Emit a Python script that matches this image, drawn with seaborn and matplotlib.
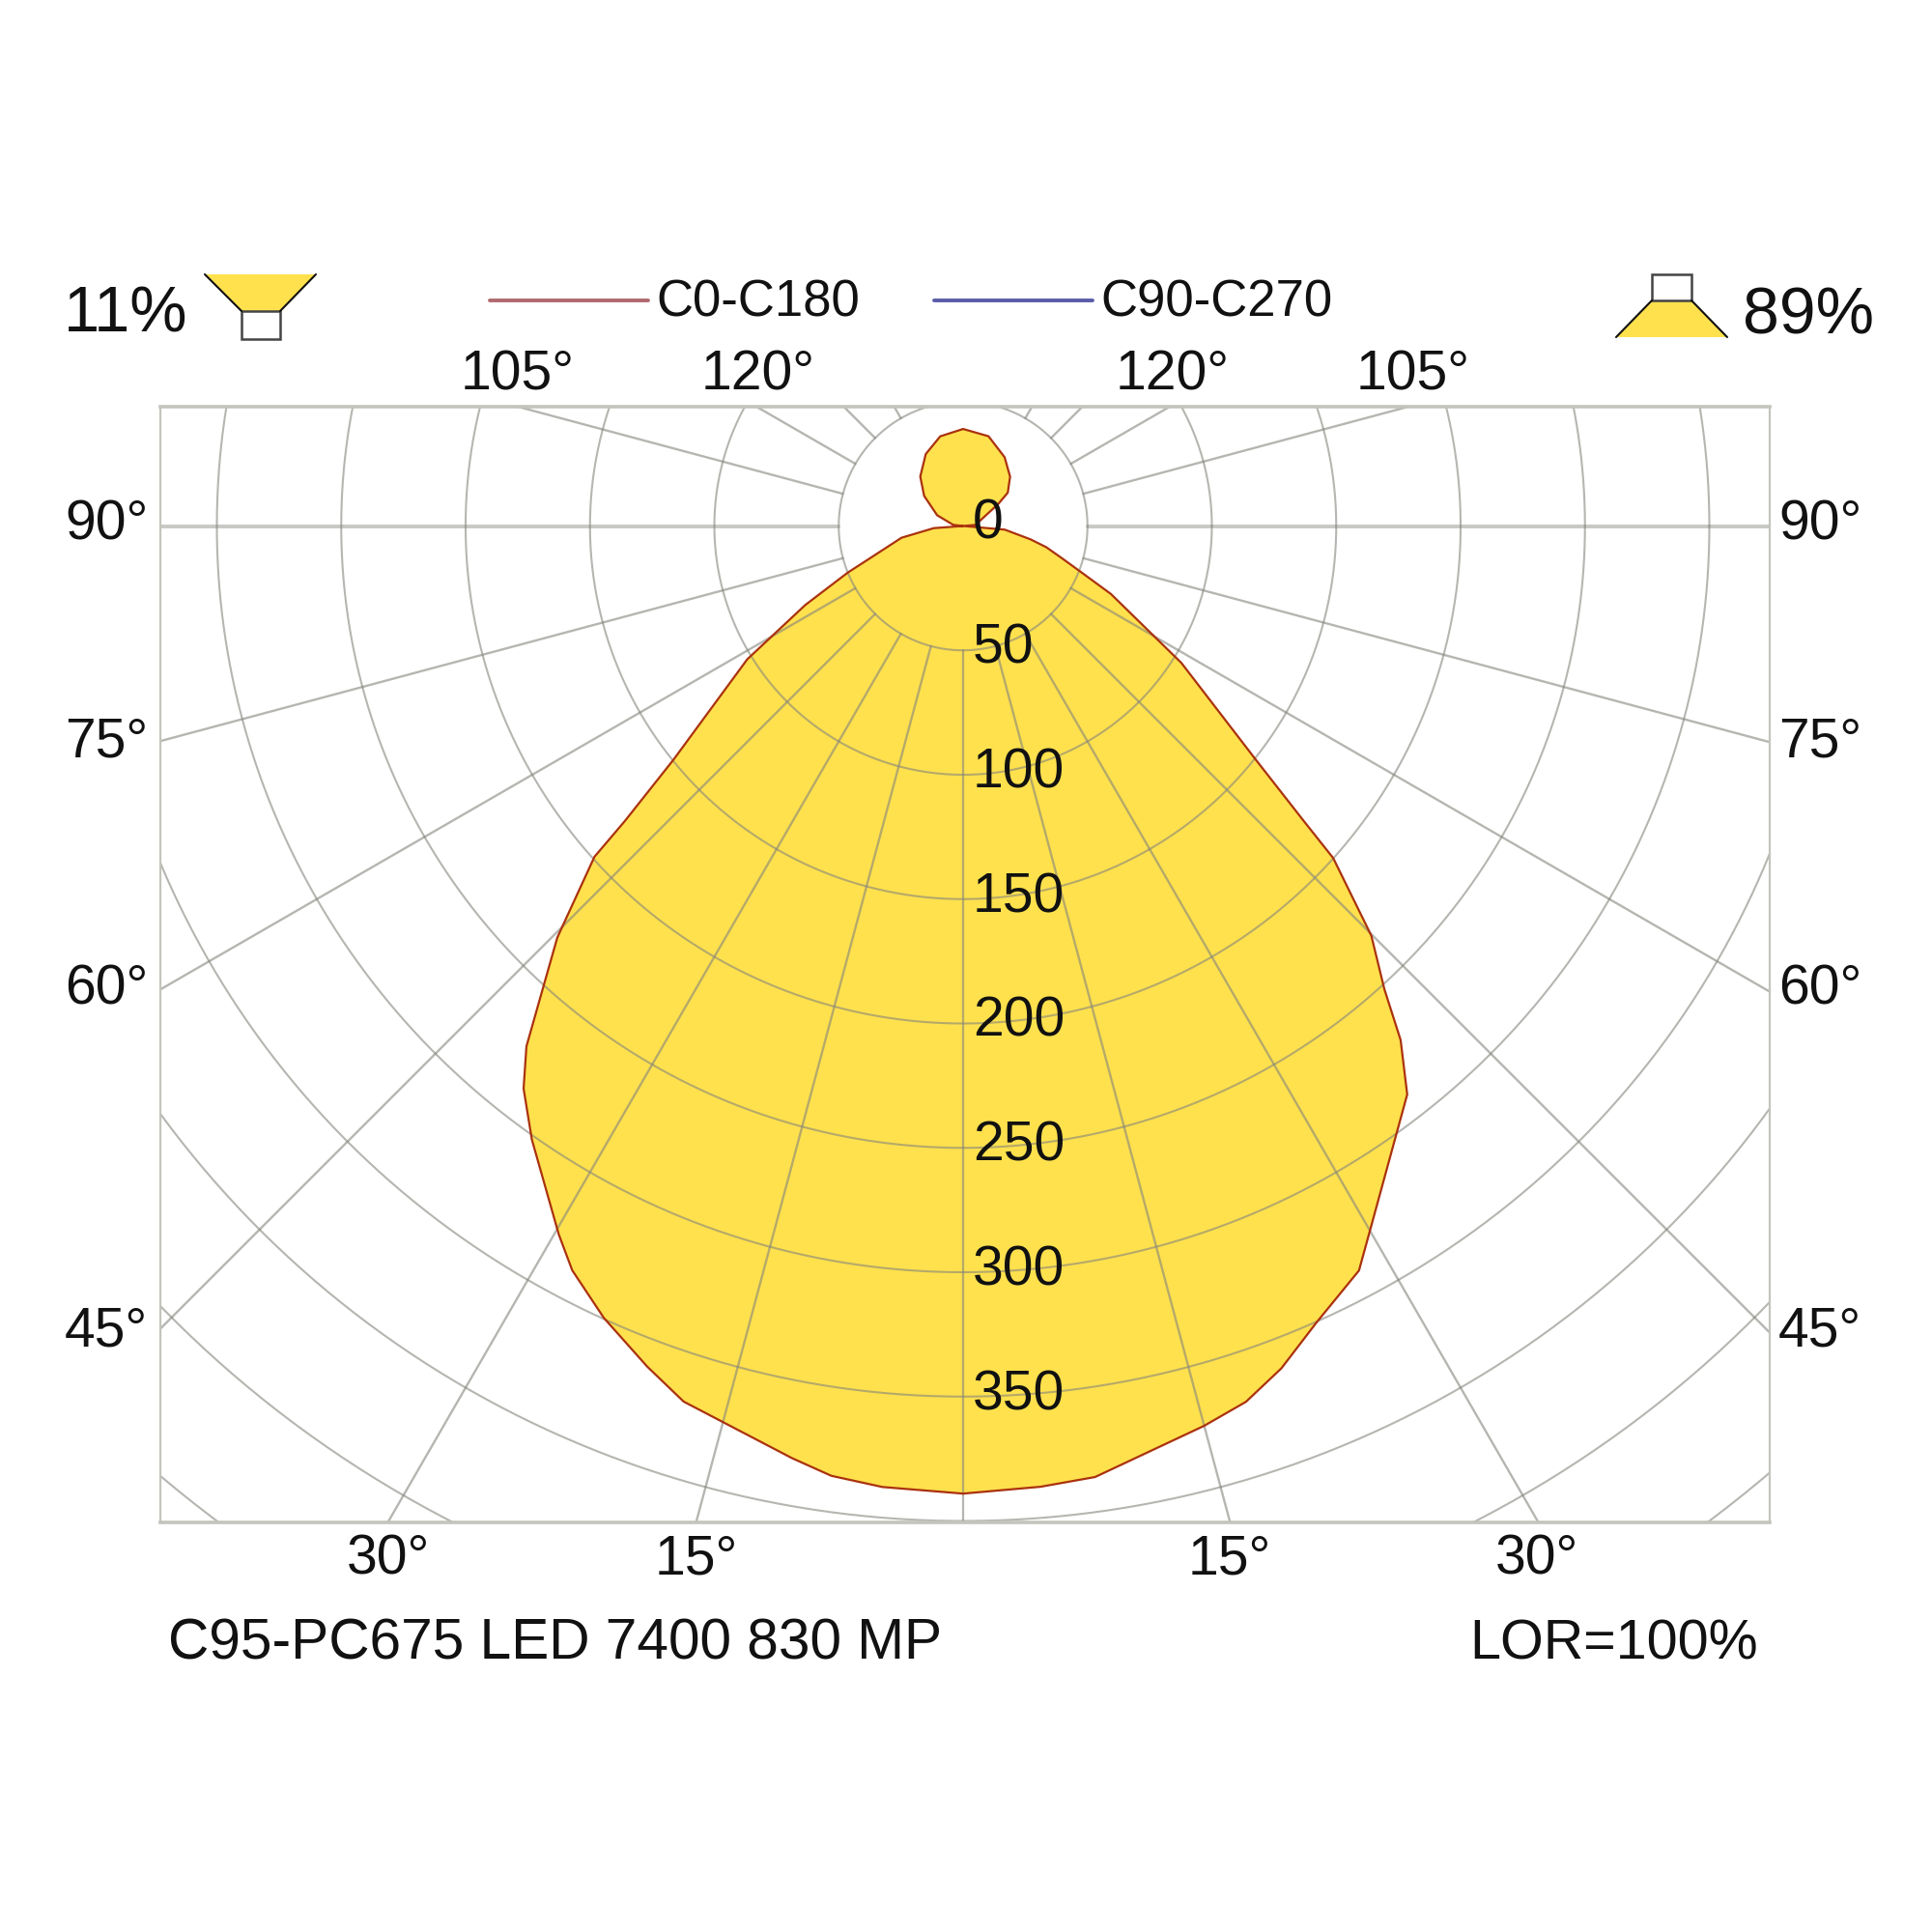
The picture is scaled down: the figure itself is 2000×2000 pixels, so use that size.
import numpy as np
import pandas as pd
import seaborn as sns
import matplotlib.pyplot as plt
from matplotlib.lines import Line2D
from matplotlib.patches import Polygon, Rectangle

# intensity curve, cd/klm (gamma from straight down)
gamma_right = [0, 4.6, 7.9, 15, 17.9, 20.7, 23.9, 28, 30.2, 38, 40.4, 42.3, 44.9, 48.1, 49.1,
               51.4, 57.9, 65.3, 68.8, 71.8, 75.7, 78.8, 85, 90, 95, 122.1, 126.7, 136.4, 148.9, 164.2, 180]
cd_right = [389, 387.5, 386, 374.5, 370, 362, 350.4, 339, 326, 290, 271.4, 251.6, 232.5, 199.9, 181.3,
            150.5, 103.6, 65.4, 50.4, 42.1, 34.5, 27.6, 16.8, 0, 5, 16.7, 22.4, 27.4, 32.3, 37.5, 39]
gamma_left = [0, 4.8, 7.9, 10.4, 17.7, 20.6, 24.4, 27.7, 29.7, 35.1, 38, 40, 42.4, 44.6, 48.1, 48.9,
              51.1, 58.3, 63.4, 68, 70.8, 79.2, 85.8, 90, 96.6, 112.5, 127.7, 139.1, 152.6, 165.7, 180]
cd_left = [389, 387.7, 385.5, 381, 369.5, 361, 349.6, 338, 328, 301.5, 287, 273.1, 250, 232.3, 199.1, 180.5,
           149.6, 102, 71, 50, 39.9, 25.2, 11.8, 0, 4, 11.3, 19.8, 26.3, 32.6, 37.2, 39]

ring_values = [50, 100, 150, 200, 250, 300, 350, 400, 450, 500]
ring_labels = [0, 50, 100, 150, 200, 250, 300, 350]
ray_angles = [15, 30, 45, 60, 75, 90, 105, 120, 135, 150, 165]

# angle labels: text, centre x, centre y in image pixels
angle_labels = [('105°', 536, 389), ('120°', 785, 389), ('120°', 1214, 389), ('105°', 1463, 389),
                ('90°', 110, 543), ('90°', 1884, 543), ('75°', 110, 768), ('75°', 1884, 768),
                ('60°', 110, 1025), ('60°', 1884, 1025), ('45°', 110, 1379), ('45°', 1884, 1379),
                ('30°', 402, 1615), ('15°', 721, 1615), ('15°', 1273, 1615), ('30°', 1591, 1615)]

YELLOW = '#ffe14d'
GRID = '#85857d'
TXT = '#111111'
W = 2000
CX, CY = 997, 544.5   # pole of the diagram in pixels
K = 2.575             # pixels per cd


def px(x, y):
    return x / W, 1 - y / W


def to_xy(gamma, cd, sign):
    g = np.radians(gamma)
    cd = np.array(cd)
    return pd.DataFrame({'x': sign * cd * np.sin(g), 'y': -cd * np.cos(g)})


sns.set_theme(style='white')
plt.rcParams['font.family'] = ['Liberation Sans', 'DejaVu Sans']

fig = plt.figure(figsize=(20, 20), dpi=100, facecolor='white')
ax = fig.add_axes([166 / W, 1 - 1575.5 / W, (1832 - 166) / W, (1575.5 - 421) / W])

right = to_xy(gamma_right, cd_right, 1)
left = to_xy(gamma_left, cd_left, -1)

# yellow body
outline = pd.concat([right, left.iloc[::-1]], ignore_index=True)
ax.fill(outline['x'], outline['y'], color=YELLOW, lw=0, zorder=1)

# grid over the fill
t = np.linspace(0, 2 * np.pi, 720)
for r in ring_values:
    ax.plot(r * np.cos(t), r * np.sin(t), color=GRID, lw=1.5, alpha=0.6, zorder=2)
ax.plot([0, 0], [-50, -700], color=GRID, lw=1.6, alpha=0.6, zorder=2)
for a in ray_angles:
    g = np.radians(a)
    for s in (-1, 1):
        ax.plot([s * 50 * np.sin(g), s * 700 * np.sin(g)], [-50 * np.cos(g), -700 * np.cos(g)],
                color=GRID, lw=2.8 if a == 90 else 1.7, alpha=0.45 if a == 90 else 0.6, zorder=2)

# both halves of the curve
for part in (right, left):
    sns.lineplot(data=part, x='x', y='y', sort=False, estimator=None, color='#aa320e', lw=1.6,
                 legend=False, ax=ax, zorder=3)

for v in ring_labels:
    ax.text(3.8, -v + 0.6, str(v), fontsize=41, color=TXT, ha='left', va='center', zorder=4)

ax.set_xlim((166 - CX) / K, (1832 - CX) / K)
ax.set_ylim((CY - 1575.5) / K, (CY - 421) / K)
ax.set(xlabel='', ylabel='', xticks=[], yticks=[])
for name, sp in ax.spines.items():
    sp.set_visible(True)
    sp.set_color('#c4c4bc')
    sp.set_linewidth(2.6 if name in ('top', 'bottom') else 1.6)

for txt, x, y in angle_labels:
    fig.text(*px(x, y), txt, fontsize=41, color=TXT, ha='center', va='center')

fig.text(*px(66, 327), '11%', fontsize=48, color=TXT, ha='left', va='center')
fig.text(*px(1804, 327), '89%', fontsize=49, color=TXT, ha='left', va='center')
fig.text(*px(679, 313), 'C0-C180', fontsize=38, color=TXT, ha='left', va='center')
fig.text(*px(1139, 313), 'C90-C270', fontsize=38, color=TXT, ha='left', va='center')
fig.text(*px(174, 1702), 'C95-PC675 LED 7400 830 MP', fontsize=42.2, color=TXT, ha='left', va='center')
fig.text(*px(1820, 1702), 'LOR=100%', fontsize=41.4, color=TXT, ha='right', va='center')

# legend strokes
fig.add_artist(Line2D([507 / W, 671 / W], [1 - 311 / W] * 2, color='#b06a70', lw=2.8))
fig.add_artist(Line2D([967 / W, 1131 / W], [1 - 311 / W] * 2, color='#5b5ca8', lw=2.8))

# little luminaire icons, upward share on the left, downward on the right
fig.add_artist(Polygon([px(212, 284), px(327, 284), px(290, 322), px(250, 322)], closed=True,
                       facecolor=YELLOW, edgecolor='none', transform=fig.transFigure))
fig.add_artist(Line2D([212 / W, 250 / W], [1 - 284 / W, 1 - 322 / W], color='#111111', lw=1.5))
fig.add_artist(Line2D([327 / W, 290 / W], [1 - 284 / W, 1 - 322 / W], color='#111111', lw=1.5))
fig.add_artist(Rectangle(px(250, 351), 40 / W, 29 / W, facecolor='white', edgecolor='#444444', lw=1.8,
                         transform=fig.transFigure))
fig.add_artist(Polygon([px(1710, 311), px(1751, 311), px(1788, 349), px(1673, 349)], closed=True,
                       facecolor=YELLOW, edgecolor='none', transform=fig.transFigure))
fig.add_artist(Line2D([1710 / W, 1673 / W], [1 - 311 / W, 1 - 349 / W], color='#111111', lw=1.5))
fig.add_artist(Line2D([1751 / W, 1788 / W], [1 - 311 / W, 1 - 349 / W], color='#111111', lw=1.5))
fig.add_artist(Rectangle(px(1710, 311), 41 / W, 27 / W, facecolor='white', edgecolor='#444444', lw=1.8,
                         transform=fig.transFigure))

fig.savefig('out.png', dpi=100, facecolor='white')
